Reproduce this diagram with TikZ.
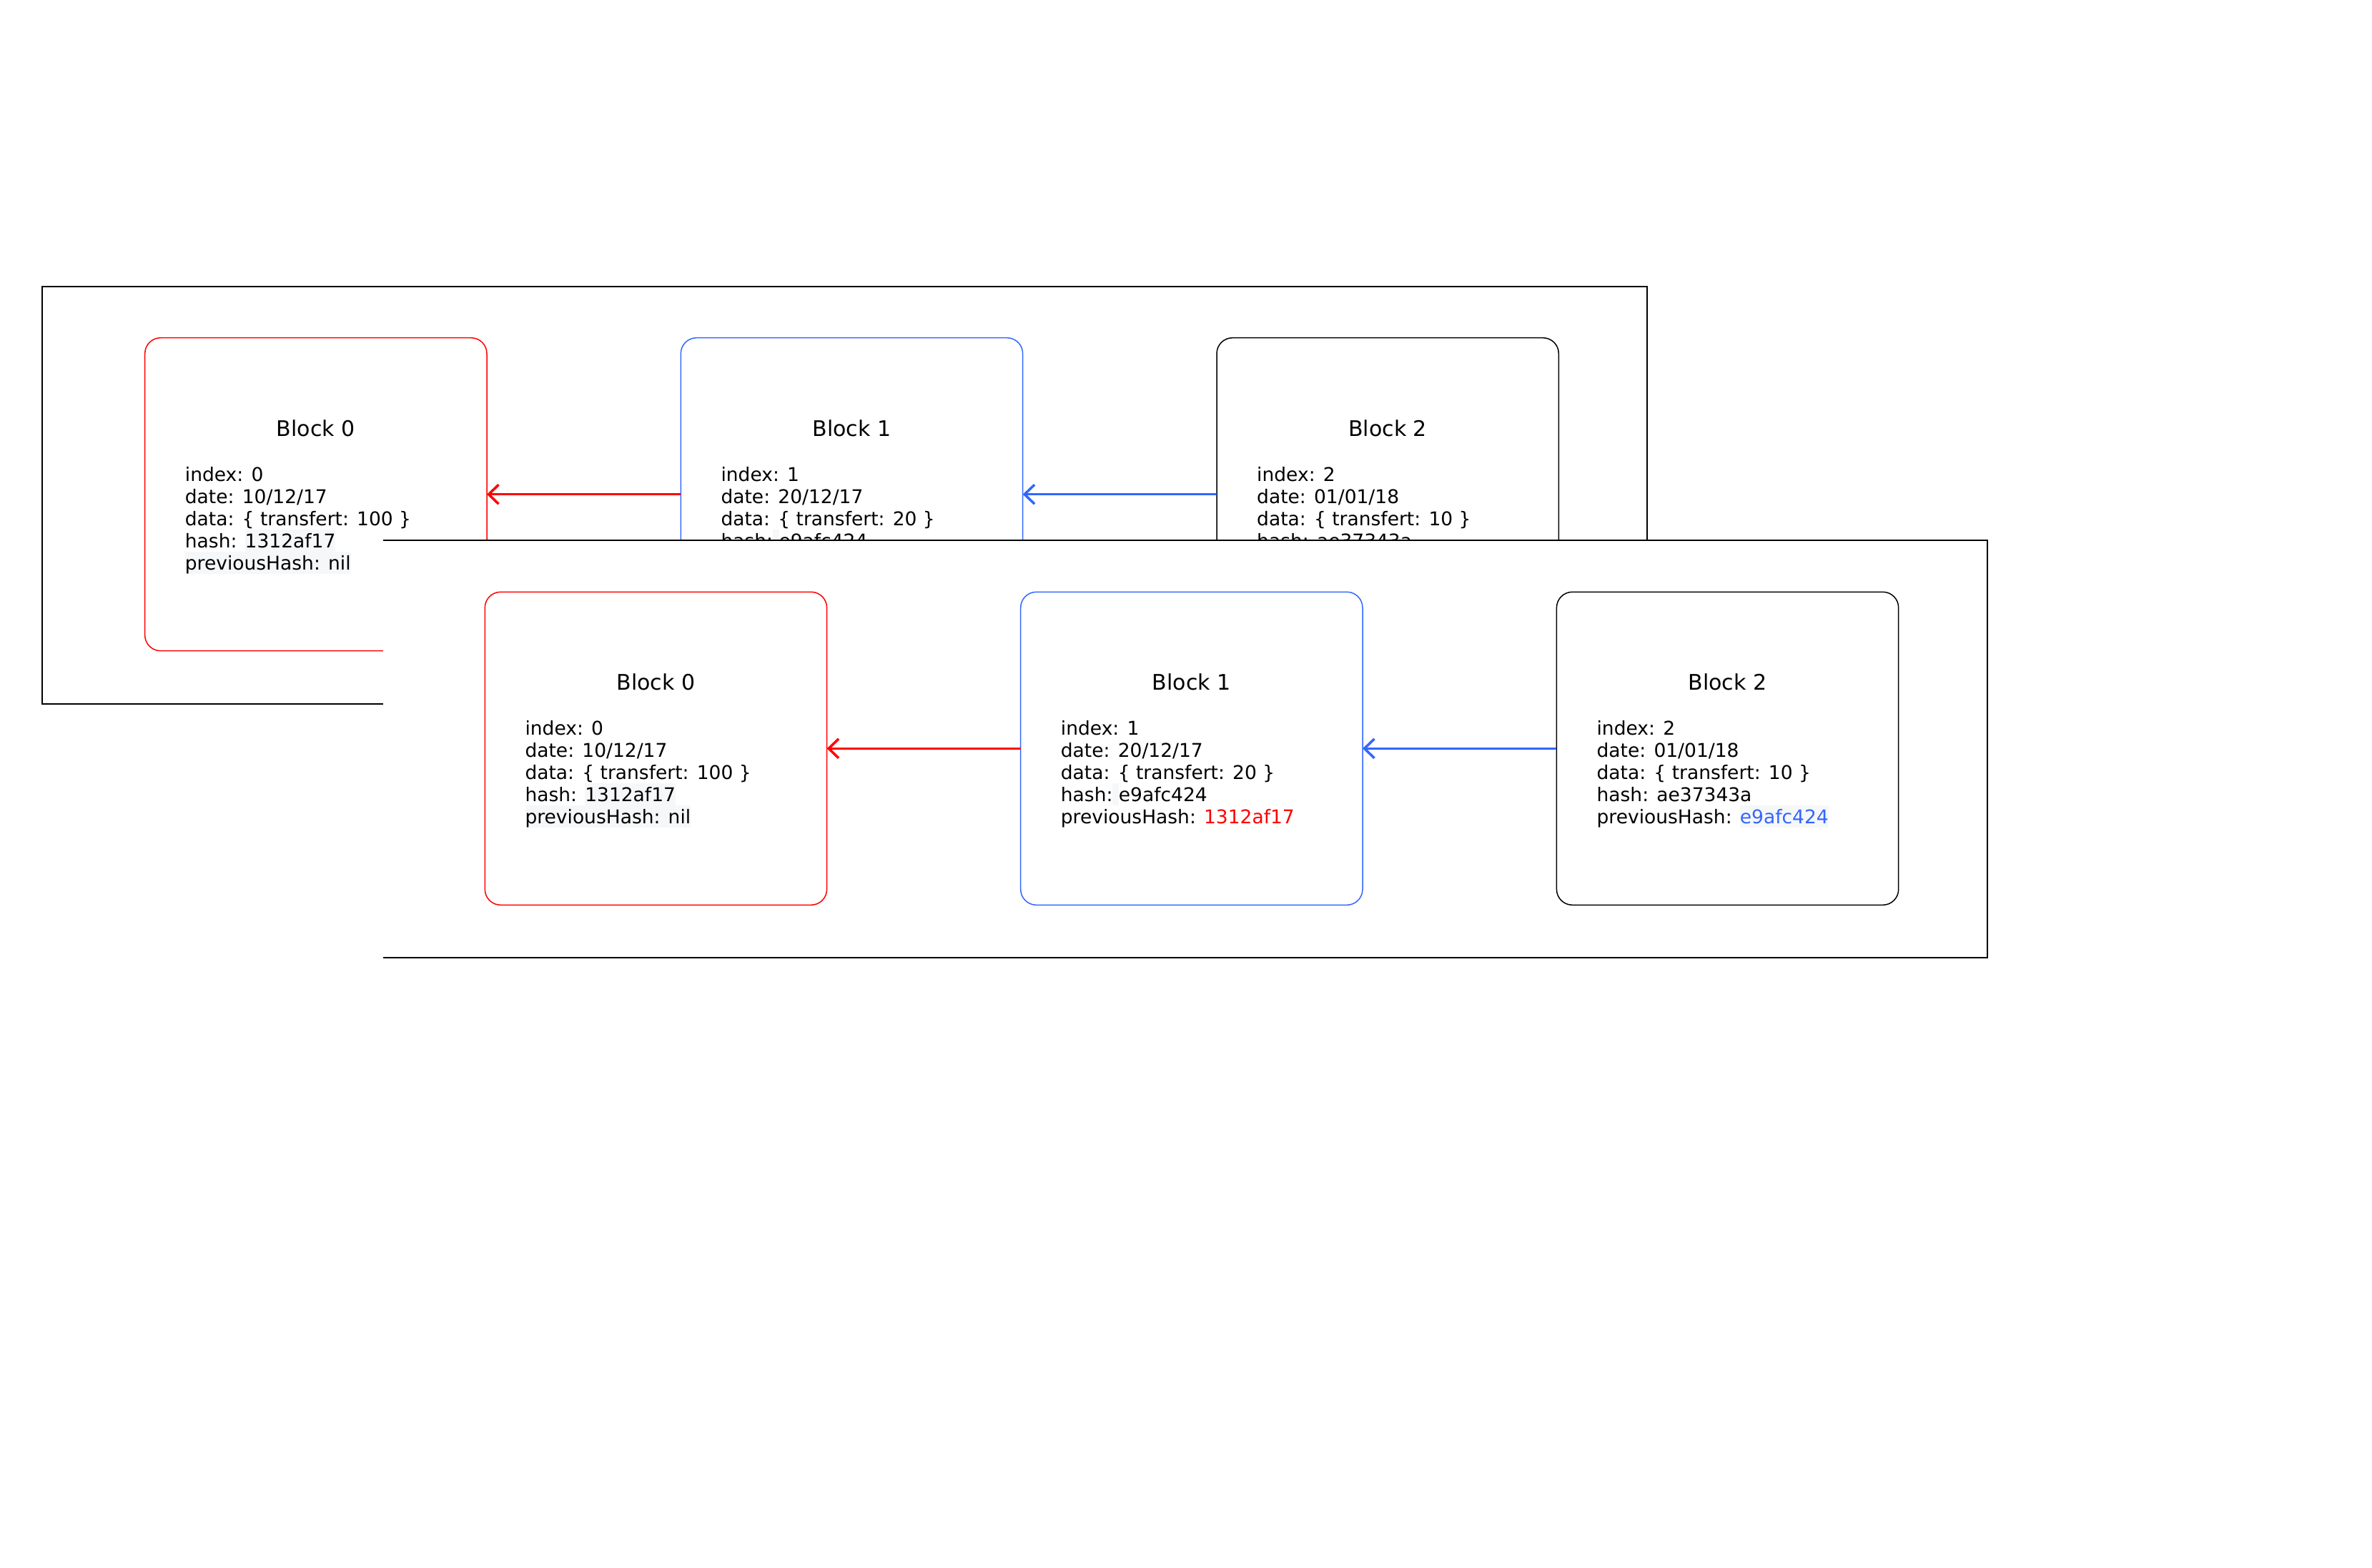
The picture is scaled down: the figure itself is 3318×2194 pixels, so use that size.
\documentclass[tikz,border=0pt]{standalone}
\usepackage{fontspec}
\setmainfont{DejaVu Sans}
\usetikzlibrary{arrows.meta}
\definecolor{redc}{HTML}{FF0000}
\definecolor{bluec}{HTML}{3366FF}
\definecolor{hlgrey}{HTML}{F6F7F8}
\newcommand{\hlbox}[1]{{\setlength{\fboxsep}{0pt}\colorbox{hlgrey}{\rule[-5.7pt]{0pt}{31pt}#1}}}
\newcommand{\chainblk}[9]{%
  \node[blockbox,#3,anchor=north west] (#1) at (#2) {};
  \node[titletext] (#1t) at ([shift={(239.15,137.3)}]#1.north west) {#4};
  \node[bodytext] (#1a) at ([shift={(56,200.3)}]#1.north west) {#5};
  \node[bodytext] (#1b) at ([shift={(56,231.3)}]#1.north west) {#6};
  \node[bodytext] (#1c) at ([shift={(56,262.3)}]#1.north west) {#7};
  \node[bodytext] (#1d) at ([shift={(56,293.3)}]#1.north west) {#8};
  \node[bodytext] (#1e) at ([shift={(56,324.3)}]#1.north west) {#9};
}
\tikzset{
  blockbox/.style={draw, rounded corners=22pt, minimum width=478.3pt, minimum height=438pt, inner sep=0pt, outer sep=0pt, line width=1.5pt},
  redblk/.style={draw=redc},
  blueblk/.style={draw=bluec},
  blackblk/.style={draw=black},
  titletext/.style={font=\fontsize{30}{36}\selectfont, anchor=base, inner sep=0pt},
  bodytext/.style={font=\fontsize{26.5}{31}\selectfont, anchor=base west, inner sep=0pt},
  framebox/.style={draw, line width=2pt, inner sep=0pt, outer sep=0pt, minimum width=2245pt, minimum height=584pt, anchor=north west},
  frameline/.style={line width=2pt},
  linkarrow/.style={line width=3.5pt, -{Straight Barb[length=14pt,width=27pt]}},
}
\begin{document}
\begin{tikzpicture}[x=1pt,y=-1pt]
\useasboundingbox (0,0) rectangle (3318,2194);
% upper frame
\node[framebox] (f1) at (59,401) {};
\chainblk{a0}{202.7,472.7}{redblk}{Block 0}{index: 0}{date: 10/12/17}{data: \{ transfert: 100 \}}{hash: \hlbox{1312af17}}{\hlbox{previousHash: nil}}
\chainblk{a1}{952.3,472.7}{blueblk}{Block 1}{index: 1}{date: 20/12/17}{data: \{ transfert: 20 \}}{hash:\hlbox{\ }e9afc424}{previousHash: \textcolor{redc}{1312af17}}
\chainblk{a2}{1702,472.7}{blackblk}{Block 2}{index: 2}{date: 01/01/18}{data: \{ transfert: 10 \}}{hash: ae37343a}{previousHash: \hlbox{\textcolor{bluec}{e9afc424}}}
\draw[linkarrow, redc] (a1.west) -- (a0.east);
\draw[linkarrow, bluec] (a2.west) -- (a1.east);
% lower frame
\node[framebox, draw=none, fill=white, minimum width=2244.5pt] (f2) at (535.5,756) {};
\draw[frameline] (f2.north west) -- (f2.north east) -- (f2.south east) -- (f2.south west);
\chainblk{b0}{678.3,828.3}{redblk}{Block 0}{index: 0}{date: 10/12/17}{data: \{ transfert: 100 \}}{hash: \hlbox{1312af17}}{\hlbox{previousHash: nil}}
\chainblk{b1}{1427.7,828.3}{blueblk}{Block 1}{index: 1}{date: 20/12/17}{data: \{ transfert: 20 \}}{hash:\hlbox{\ }e9afc424}{previousHash: \textcolor{redc}{1312af17}}
\chainblk{b2}{2177.4,828.3}{blackblk}{Block 2}{index: 2}{date: 01/01/18}{data: \{ transfert: 10 \}}{hash: ae37343a}{previousHash: \hlbox{\textcolor{bluec}{e9afc424}}}
\draw[linkarrow, redc] (b1.west) -- (b0.east);
\draw[linkarrow, bluec] (b2.west) -- (b1.east);
\end{tikzpicture}
\end{document}
